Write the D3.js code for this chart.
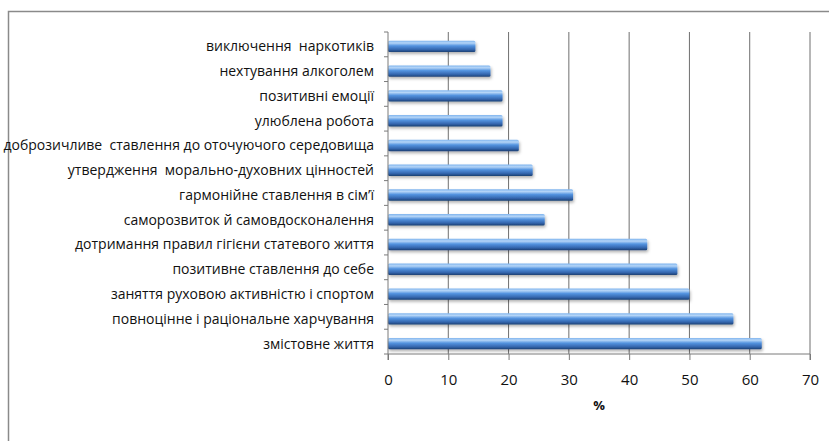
<!DOCTYPE html>
<html>
<head>
<meta charset="utf-8">
<script src="https://cdn.jsdelivr.net/npm/d3@7"></script>
<style>
  body { margin: 0; background: #fff; }
  text { font-family: "Open Sans", "DejaVu Sans", sans-serif; fill: #111; }
</style>
</head>
<body>
<div id="chart"></div>
<script>
// categories, top to bottom as drawn
var categories = [
    "виключення  наркотиків",
    "нехтування алкоголем",
    "позитивні емоції",
    "улюблена робота",
    "доброзичливе  ставлення до оточуючого середовища",
    "утвердження  морально-духовних цінностей",
    "гармонійне ставлення в сім’ї",
    "саморозвиток й самовдосконалення",
    "дотримання правил гігієни статевого життя",
    "позитивне ставлення до себе",
    "заняття руховою активністю і спортом",
    "повноцінне і раціональне харчування",
    "змістовне життя"
]
var values = [14.5, 17, 19, 19, 21.7, 24, 30.7, 26, 43, 48, 50, 57.3, 62]
var xTicks = [0, 10, 20, 30, 40, 50, 60, 70]
var axisTitle = "%"

var w = 829
var h = 441
var plotL = 388, plotR = 810, plotT = 32, plotB = 354

var svg = d3.select("#chart")
            .append("svg")
            .attr("width", w)
            .attr("height", h)

var defs = svg.append("defs")
var grad = defs.append("linearGradient")
               .attr("id", "barGrad")
               .attr("x1", 0).attr("y1", 0).attr("x2", 0).attr("y2", 1)
grad.append("stop").attr("offset", "0%").attr("stop-color", "#7fb4ee")
grad.append("stop").attr("offset", "20%").attr("stop-color", "#b5d5f7")
grad.append("stop").attr("offset", "45%").attr("stop-color", "#5494e0")
grad.append("stop").attr("offset", "78%").attr("stop-color", "#3466ae")
grad.append("stop").attr("offset", "100%").attr("stop-color", "#1b3f72")

var shadow = defs.append("filter").attr("id", "shadow")
                 .attr("x", "-5%").attr("y", "-50%").attr("width", "110%").attr("height", "220%")
shadow.append("feDropShadow")
      .attr("dx", 1).attr("dy", 2).attr("stdDeviation", 1.5)
      .attr("flood-color", "#000").attr("flood-opacity", 0.3)

// outer frame (runs off right/bottom edge)
svg.append("rect")
   .attr("x", 8.5).attr("y", 11.5)
   .attr("width", 900).attr("height", 500)
   .attr("fill", "none")
   .attr("stroke", "#8a8a8a")
   .attr("stroke-width", 1.5)

var x = d3.scaleLinear().domain([0, 70]).range([plotL, plotR])
var y = d3.scaleBand().domain(categories).range([plotT, plotB]).paddingInner(0.54).paddingOuter(0.27)

// gridlines
svg.selectAll("line.grid")
   .data(xTicks.slice(1))
   .enter()
   .append("line")
   .attr("class", "grid")
   .attr("x1", d => x(d)).attr("x2", d => x(d))
   .attr("y1", plotT).attr("y2", plotB)
   .attr("stroke", "#6f6f6f")
   .attr("stroke-width", 1)

// bars
svg.selectAll("rect.bar")
   .data(values)
   .enter()
   .append("rect")
   .attr("class", "bar")
   .attr("x", x(0))
   .attr("y", (d, i) => y(categories[i]) + 2)
   .attr("width", d => x(d) - x(0))
   .attr("height", y.bandwidth())
   .attr("rx", 1.5)
   .attr("fill", "url(#barGrad)")
   .attr("filter", "url(#shadow)")

// y axis
var yAxis = svg.append("g")
               .attr("transform", `translate(${plotL},0)`)
yAxis.append("line")
     .attr("x1", 0).attr("x2", 0).attr("y1", plotT).attr("y2", plotB)
     .attr("stroke", "#7a7a7a")
var step = (plotB - plotT) / categories.length
yAxis.selectAll("line.tk")
     .data(d3.range(categories.length + 1))
     .enter()
     .append("line")
     .attr("class", "tk")
     .attr("x1", -4).attr("x2", 0)
     .attr("y1", d => plotT + d * step).attr("y2", d => plotT + d * step)
     .attr("stroke", "#7a7a7a")

svg.selectAll("text.cat")
   .data(categories)
   .enter()
   .append("text")
   .attr("class", "cat")
   .text(d => d)
   .attr("x", 374)
   .attr("y", d => y(d) + y.bandwidth() / 2 + 2)
   .attr("dy", "0.35em")
   .attr("text-anchor", "end")
   .style("font-size", "14px")
   .style("white-space", "pre")

// x axis
var xAxis = d3.axisBottom(x).tickValues(xTicks).tickSize(6).tickPadding(14)
var gx = svg.append("g")
            .attr("transform", `translate(0,${plotB})`)
            .call(xAxis)
gx.select(".domain").attr("stroke", "#7a7a7a").attr("d", `M${plotL},6V0H${plotR}V6`)
gx.selectAll(".tick line").attr("stroke", "#7a7a7a")
gx.selectAll(".tick text").style("font-size", "15px").attr("fill", "#222")

svg.append("text")
   .text(axisTitle)
   .attr("x", x(35))
   .attr("y", 410)
   .attr("text-anchor", "middle")
   .style("font-size", "13px")
   .style("font-weight", "bold")
</script>
</body>
</html>
